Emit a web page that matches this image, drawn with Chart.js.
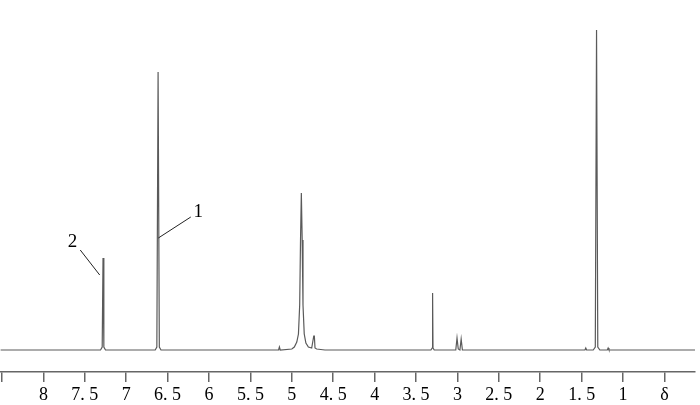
<!DOCTYPE html>
<html>
<head>
<meta charset="utf-8">
<script src="https://cdn.jsdelivr.net/npm/chart.js@4.4.1/dist/chart.umd.min.js"></script>
<style>
  html, body { margin: 0; padding: 0; background: #fff; }
  canvas { display: block; }
</style>
</head>
<body>
<canvas id="nmr" width="700" height="405"></canvas>
<script>
// chemical shift (ppm) and intensity
const shifts = [
  8.52, 7.40, 7.31, 7.29, 7.28, 7.27, 7.25, 7.00,
  6.65, 6.63, 6.615, 6.60, 6.58, 6.40, 5.30,
  5.16, 5.15, 5.14, 5.00, 4.97, 4.94, 4.92, 4.905, 4.895, 4.885,
  4.875, 4.865, 4.85, 4.83, 4.80, 4.76, 4.735, 4.728, 4.72, 4.70, 4.60,
  3.40, 3.32, 3.305, 3.30, 3.295, 3.28, 3.10,
  3.02, 3.005, 2.99, 2.97, 2.955, 2.94, 2.90, 1.60,
  1.46, 1.45, 1.44, 1.36, 1.335, 1.32, 1.305, 1.28,
  1.19, 1.18, 1.17, 0.13
];
const intensity = [
  0, 0, 0, 3, 92, 3, 0, 0,
  0, 3, 278, 3, 0, 0, 0,
  0, 3, 0, 1, 3, 8, 16, 45, 110, 157,
  110, 45, 16, 7, 3, 2, 14, 14, 2, 1, 0,
  0, 0, 2, 57, 2, 0, 0,
  0, 12, 1, 0, 11, 0, 0, 0,
  0, 2, 0, 0, 3, 320, 3, 0,
  0, 2, 0, 0
];

const tickValues = [8.5, 8, 7.5, 7, 6.5, 6, 5.5, 5, 4.5, 4, 3.5, 3, 2.5, 2, 1.5, 1, 0.5];
const tickLabels = ['', '8', '7. 5', '7', '6. 5', '6', '5. 5', '5', '4. 5', '4', '3. 5', '3', '2. 5', '2', '1. 5', '1', 'δ'];

// peak labels: text, text position, leader line start/end (ppm, intensity)
const peakNames = ['2', '1'];
const nameShift = [7.65, 6.13];
const nameLevel = [108, 138];
const lineFrom = [[7.555, 100], [6.22, 133]];
const lineTo = [[7.32, 75], [6.612, 112]];

const peakLabels = {
  id: 'peakLabels',
  afterDatasetsDraw(chart) {
    const { ctx, scales: { x, y } } = chart;
    ctx.save();
    ctx.strokeStyle = '#222';
    ctx.lineWidth = 1;
    ctx.fillStyle = '#000';
    ctx.font = '19px "Liberation Serif"';
    ctx.textAlign = 'center';
    ctx.textBaseline = 'middle';
    peakNames.forEach((name, i) => {
      ctx.beginPath();
      ctx.moveTo(x.getPixelForValue(lineFrom[i][0]), y.getPixelForValue(lineFrom[i][1]));
      ctx.lineTo(x.getPixelForValue(lineTo[i][0]), y.getPixelForValue(lineTo[i][1]));
      ctx.stroke();
      ctx.fillText(name, x.getPixelForValue(nameShift[i]), y.getPixelForValue(nameLevel[i]));
    });
    ctx.restore();
  }
};

new Chart(document.getElementById('nmr').getContext('2d'), {
  type: 'line',
  data: {
    datasets: [{
      data: shifts.map((s, i) => ({ x: s, y: intensity[i] })),
      borderColor: '#5a5a5a',
      borderWidth: 1.2,
      pointRadius: 0,
      tension: 0,
      fill: false
    }]
  },
  options: {
    responsive: false,
    animation: false,
    layout: { padding: { top: 0, left: 0, right: 5, bottom: 0 } },
    plugins: { legend: { display: false }, tooltip: { enabled: false } },
    scales: {
      x: {
        type: 'linear',
        reverse: true,
        min: 0.131,
        max: 8.519,
        afterBuildTicks: (axis) => { axis.ticks = tickValues.map(v => ({ value: v })); },
        afterFit: (axis) => { axis.height = 33; },
        ticks: {
          autoSkip: false,
          maxRotation: 0,
          padding: 2,
          color: '#000',
          font: { family: 'Liberation Serif', size: 18 },
          callback: (value) => {
            const i = tickValues.indexOf(value);
            return i >= 0 ? tickLabels[i] : '';
          }
        },
        grid: { drawOnChartArea: false, drawTicks: true, tickLength: 10, color: '#666', lineWidth: 1.5 },
        border: { display: true, color: '#666', width: 1.5 }
      },
      y: {
        display: false,
        min: -22,
        max: 350
      }
    }
  },
  plugins: [peakLabels]
});
</script>
</body>
</html>
